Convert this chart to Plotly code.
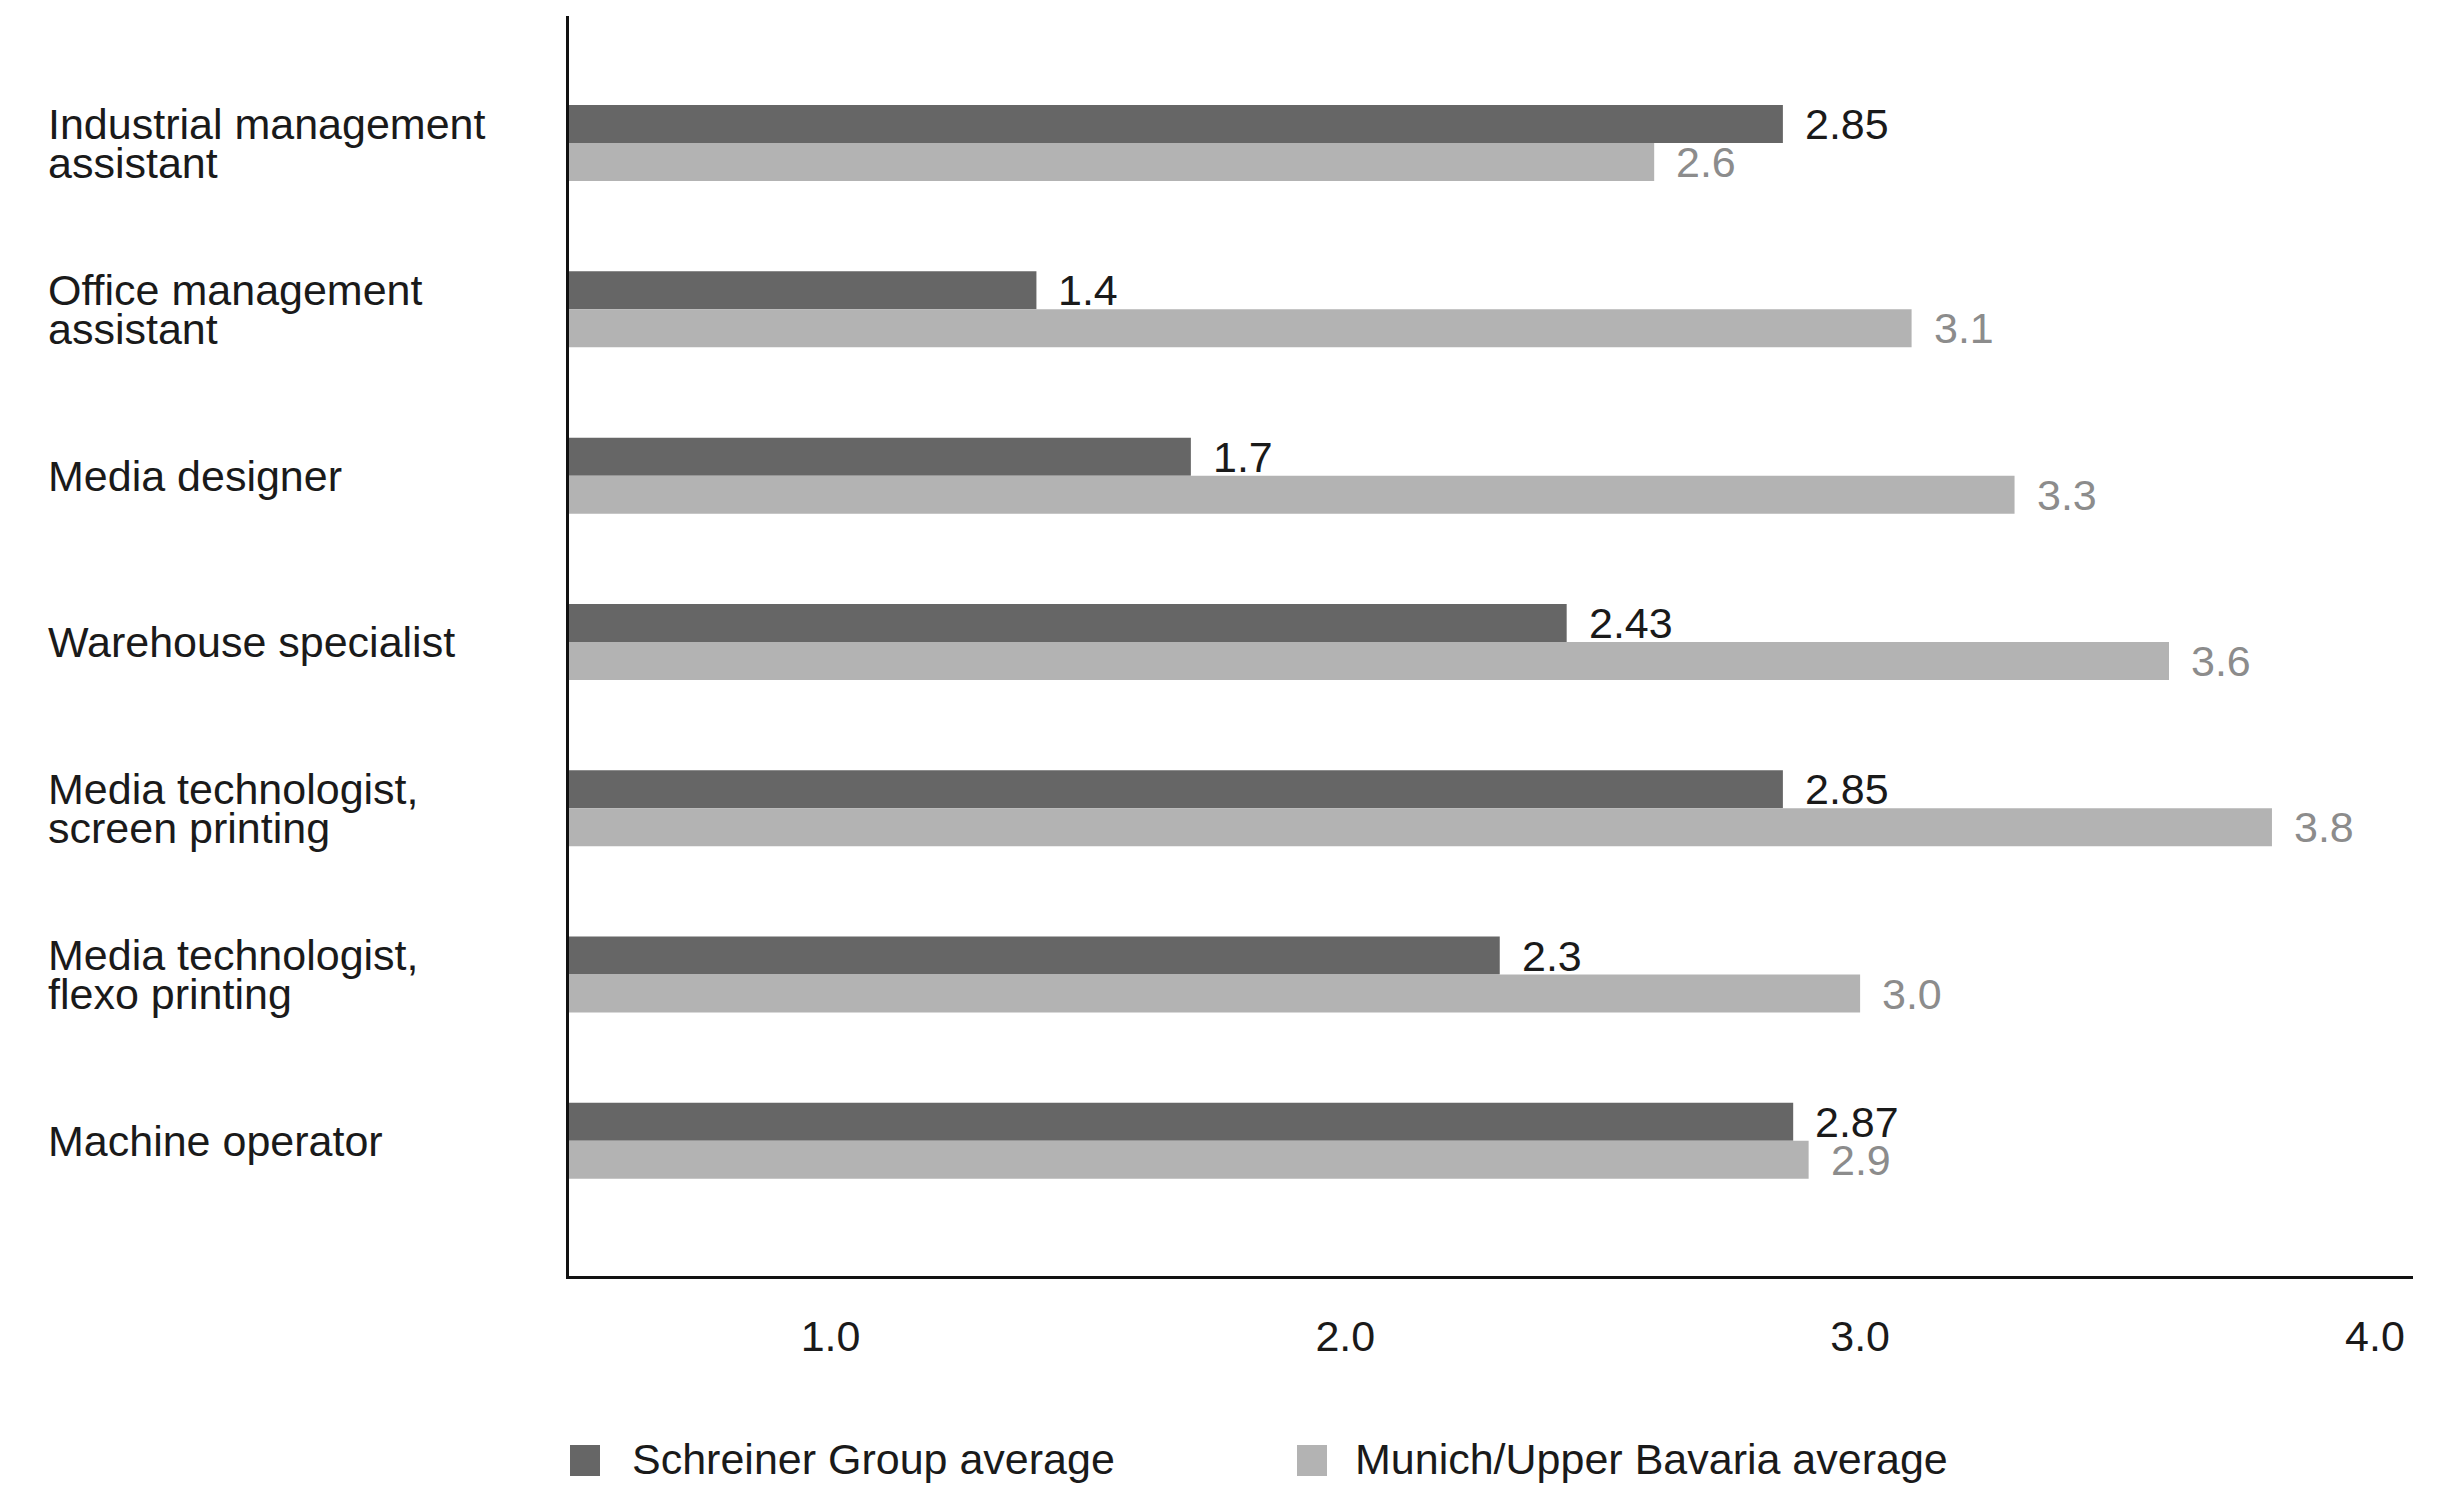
import plotly.graph_objects as go

# ---- data ----
categories = [
    "Industrial management assistant",
    "Office management assistant",
    "Media designer",
    "Warehouse specialist",
    "Media technologist, screen printing",
    "Media technologist, flexo printing",
    "Machine operator",
]
category_lines = [
    ["Industrial management", "assistant"],
    ["Office management", "assistant"],
    ["Media designer"],
    ["Warehouse specialist"],
    ["Media technologist,", "screen printing"],
    ["Media technologist,", "flexo printing"],
    ["Machine operator"],
]
schreiner_avg = [2.85, 1.4, 1.7, 2.43, 2.85, 2.3, 2.87]
munich_avg = [2.6, 3.1, 3.3, 3.6, 3.8, 3.0, 2.9]
series_names = ["Schreiner Group average", "Munich/Upper Bavaria average"]
x_ticks = [1.0, 2.0, 3.0, 4.0]

# ---- styling / geometry ----
W, H = 2458, 1487
ML, MR, MT, MB = 569, 45, 16, 211
PW, PH = W - ML - MR, H - MT - MB
FONT = "Liberation Sans, Arial, Helvetica, sans-serif"
FS = 43
DARK, LIGHT = "#666666", "#b3b3b3"
TEXT_DARK, TEXT_LIGHT = "#1a1a1a", "#8c8c8c"
BAR_W = 0.2285


def px_x(x):
    return (x - ML) / PW


def px_y(y):
    return (MT + PH - y) / PH


idx = list(range(len(categories)))

fig = go.Figure()
fig.add_trace(go.Bar(
    x=schreiner_avg, y=idx, orientation="h", name=series_names[0],
    width=BAR_W, offset=-BAR_W, marker=dict(color=DARK, line=dict(width=0)),
    showlegend=False, hoverinfo="x",
))
fig.add_trace(go.Bar(
    x=munich_avg, y=idx, orientation="h", name=series_names[1],
    width=BAR_W, offset=0, marker=dict(color=LIGHT, line=dict(width=0)),
    showlegend=False, hoverinfo="x",
))

annotations = []
# value labels at the bar ends
for i, v in enumerate(schreiner_avg):
    annotations.append(dict(
        x=v, y=i - BAR_W / 2, xref="x", yref="y", text=f"{v:g}",
        xanchor="left", yanchor="middle", xshift=20, showarrow=False,
        font=dict(family=FONT, size=FS, color=TEXT_DARK),
    ))
for i, v in enumerate(munich_avg):
    annotations.append(dict(
        x=v, y=i + BAR_W / 2, xref="x", yref="y", text=f"{v:.1f}",
        xanchor="left", yanchor="middle", xshift=20, showarrow=False,
        font=dict(family=FONT, size=FS, color=TEXT_LIGHT),
    ))

# left-aligned category labels, one annotation per line for tight leading
LEADING = 39
for i, lines in enumerate(category_lines):
    n = len(lines)
    for k, line in enumerate(lines):
        dy = (k - (n - 1) / 2) * LEADING
        annotations.append(dict(
            x=px_x(46), y=i, xref="paper", yref="y", text=line,
            xanchor="left", yanchor="middle", yshift=-dy, showarrow=False,
            font=dict(family=FONT, size=FS, color=TEXT_DARK),
        ))

# legend drawn below the axis
shapes = []
legend_items = [(570, 630, DARK), (1297, 1353, LIGHT)]
for (sx, tx, col), name in zip(legend_items, series_names):
    shapes.append(dict(
        type="rect", xref="paper", yref="paper",
        x0=px_x(sx), x1=px_x(sx + 30), y0=px_y(1445), y1=px_y(1476),
        fillcolor=col, line=dict(width=0),
    ))
    annotations.append(dict(
        x=px_x(tx), y=px_y(1459), xref="paper", yref="paper", text=name,
        xanchor="left", yanchor="middle", showarrow=False,
        font=dict(family=FONT, size=FS, color=TEXT_DARK),
    ))

fig.update_layout(
    width=W, height=H,
    margin=dict(l=ML, r=MR, t=MT, b=MB, pad=0),
    paper_bgcolor="white", plot_bgcolor="white",
    barmode="overlay",
    font=dict(family=FONT, size=FS, color=TEXT_DARK),
    xaxis=dict(
        range=[0.492, 4.074], tickvals=x_ticks,
        ticktext=[f"{t:.1f}" for t in x_ticks],
        showgrid=False, zeroline=False,
        showline=True, linecolor="#111111", linewidth=3,
        ticks="outside", ticklen=20, tickcolor="rgba(0,0,0,0)",
        tickfont=dict(family=FONT, size=FS, color=TEXT_DARK),
    ),
    yaxis=dict(
        range=[6.813, -0.764], showticklabels=False, ticks="",
        showgrid=False, zeroline=False,
        showline=True, linecolor="#111111", linewidth=2.5,
    ),
    annotations=annotations,
    shapes=shapes,
)

fig.write_html("out.html")
